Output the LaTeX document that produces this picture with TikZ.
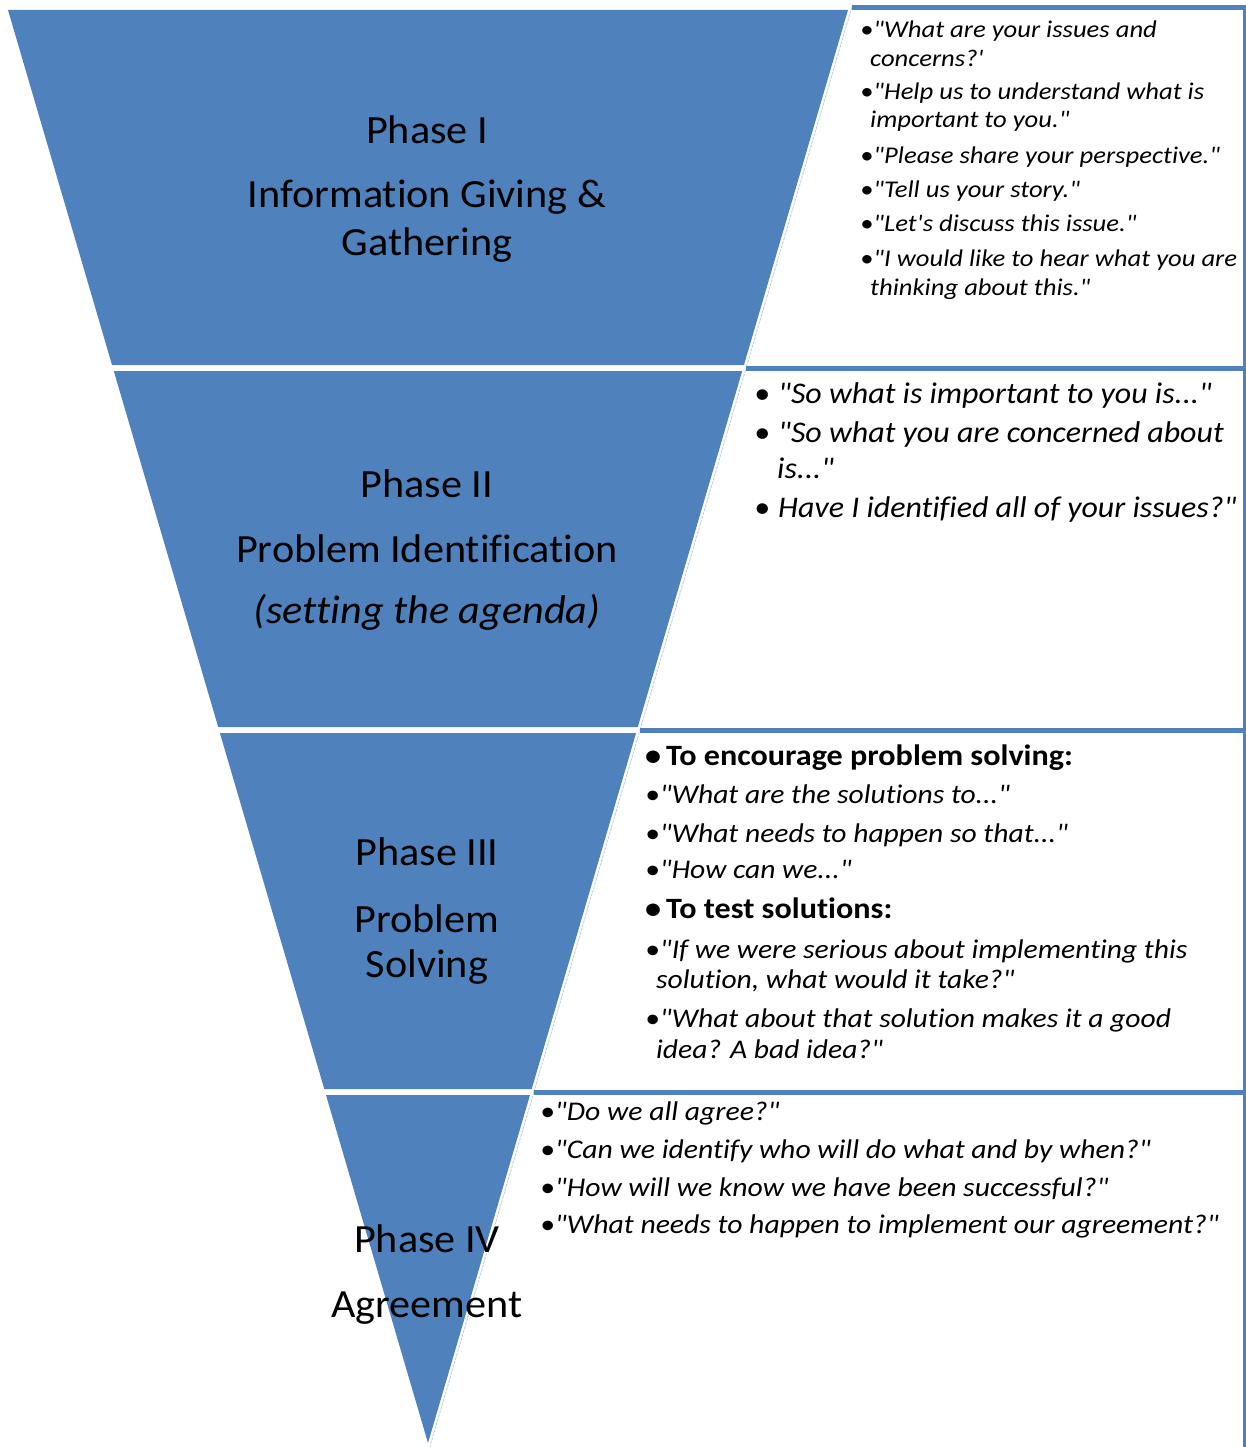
\documentclass[tikz,border=0pt]{standalone}
\usepackage{fontspec}
\setmainfont{Carlito}[Ligatures={TeXOff,CommonOff}]
\newfontfamily\phf{Carlito}[Ligatures={TeXOff,CommonOff}, FakeStretch=1.055]
\newfontfamily\fa{Carlito}[Ligatures={TeXOff,CommonOff}, FakeStretch=1.11]
\newfontfamily\fb{Carlito}[Ligatures={TeXOff,CommonOff}, FakeStretch=1.065]
\newfontfamily\fc{Carlito}[Ligatures={TeXOff,CommonOff}, FakeStretch=1.095]
\newfontfamily\fcb{Carlito}[Ligatures={TeXOff,CommonOff}, FakeStretch=1.09]
\newfontfamily\fd{Carlito}[Ligatures={TeXOff,CommonOff}, FakeStretch=1.10]
\definecolor{obl}{HTML}{4F81BD}
\definecolor{olt}{HTML}{B9CDE5}
\begin{document}
\begin{tikzpicture}[x=1pt,y=-1pt,
  trap/.style={fill=obl},
  boxline/.style={draw=olt, line width=0.8pt, dash pattern=on 3pt off 1pt},
  topline/.style={draw=obl, line width=5pt},
  ph/.style={anchor=base, inner sep=0pt, font=\phf\fontsize{40}{48}\selectfont},
  tA/.style={anchor=base west, inner sep=0pt, font=\fa\fontsize{24}{29}\selectfont\itshape},
  tB/.style={anchor=base west, inner sep=0pt, font=\fb\fontsize{30}{36}\selectfont\itshape},
  tC/.style={anchor=base west, inner sep=0pt, font=\fc\fontsize{27}{32}\selectfont\itshape},
  tCb/.style={anchor=base west, inner sep=0pt, font=\fcb\fontsize{29.5}{34}\selectfont\bfseries},
  tD/.style={anchor=base west, inner sep=0pt, font=\fd\fontsize{27}{32}\selectfont\itshape}]
\useasboundingbox (0,0) rectangle (1246,1447);
\fill[white] (0,0) rectangle (1246,1447);
% inverted pyramid
\fill[trap] (8,10) -- (848,10) -- (743.95,365) -- (112.05,365) -- cycle;
\fill[trap] (113.8,371) -- (742.2,371) -- (637.8,727) -- (218.2,727) -- cycle;
\fill[trap] (219.9,733) -- (636.1,733) -- (531.7,1089) -- (324.3,1089) -- cycle;
\fill[trap] (326.0,1095) -- (530.0,1095) -- (428,1443) -- cycle;
% text boxes
\draw[boxline] (851.7,7.5) -- (1244,7.5) -- (1244,368) -- (746.1,368) -- cycle;
\draw[boxline] (746.1,368) -- (1244,368) -- (1244,730) -- (640,730) -- cycle;
\draw[boxline] (640,730) -- (1244,730) -- (1244,1092) -- (533.9,1092) -- cycle;
\draw[boxline] (533.9,1092) -- (1244,1092) -- (1244,1447) (533.9,1092) -- (429.8,1447);
\draw[topline] (851.7,7.5) -- (1246,7.5);
\draw[topline] (746.1,368) -- (1246,368);
\draw[topline] (640,730) -- (1246,730);
\draw[topline] (533.9,1092) -- (1246,1092);
\draw[obl, line width=2.5pt] (1244.5,5) -- (1244.5,1447);
% phase labels
\node[ph] (p1a) at (427,144) {Phase I};
\node[ph] (p1b) at (427,208) {Information Giving \&};
\node[ph] (p1c) at (427,255) {Gathering};
\node[ph] (p2a) at (427,497) {Phase II};
\node[ph] (p2b) at (427,562) {Problem Identification};
\node[ph, font=\phf\fontsize{40}{48}\selectfont\itshape] (p2c) at (427,623) {(setting the agenda)};
\node[ph] (p3a) at (427,865) {Phase III};
\node[ph] (p3b) at (427,932) {Problem};
\node[ph] (p3c) at (427,977) {Solving};
\node[ph] (p4a) at (427,1252) {Phase IV};
\node[ph] (p4b) at (427,1317) {Agreement};
% box 1
\node[tA] (a1) at (860,37.7) {•"What are your issues and};
\node[tA] (a1c) at (870,66.7) {concerns?'};
\node[tA] (a2) at (860,100) {•"Help us to understand what is};
\node[tA] (a2c) at (870,128) {important to you."};
\node[tA] (a3) at (860,164) {•"Please share your perspective."};
\node[tA] (a4) at (860,198) {•"Tell us your story."};
\node[tA] (a5) at (860,232) {•"Let's discuss this issue."};
\node[tA] (a6) at (860,266) {•"I would like to hear what you are};
\node[tA] (a6c) at (870,295) {thinking about this."};
% box 2
\node[tB] (b1d) at (754,403) {•};
\node[tB] (b1) at (778,403) {"So what is important to you is..."};
\node[tB] (b2d) at (754,442) {•};
\node[tB] (b2) at (778,442) {"So what you are concerned about};
\node[tB] (b2c) at (777,478) {is..."};
\node[tB] (b3d) at (754,517) {•};
\node[tB] (b3) at (778,517) {Have I identified all of your issues?"};
% box 3
\node[tCb] (c1d) at (645,765) {•};
\node[tCb] (c1) at (666,765) {To encourage problem solving:};
\node[tC] (c2) at (645,803) {•"What are the solutions to..."};
\node[tC] (c3) at (645,842) {•"What needs to happen so that..."};
\node[tC] (c4) at (645,878) {•"How can we..."};
\node[tCb] (c5d) at (645,918) {•};
\node[tCb] (c5) at (666,918) {To test solutions:};
\node[tC] (c6) at (645,958) {•"If we were serious about implementing this};
\node[tC] (c6c) at (656,988) {solution, what would it take?"};
\node[tC] (c7) at (645,1027) {•"What about that solution makes it a good};
\node[tC] (c7c) at (656,1058) {idea? A bad idea?"};
% box 4
\node[tD] (d1) at (540,1120) {•"Do we all agree?"};
\node[tD] (d2) at (540,1158) {•"Can we identify who will do what and by when?"};
\node[tD] (d3) at (540,1196) {•"How will we know we have been successful?"};
\node[tD] (d4) at (540,1233) {•"What needs to happen to implement our agreement?"};
\end{tikzpicture}
\end{document}
